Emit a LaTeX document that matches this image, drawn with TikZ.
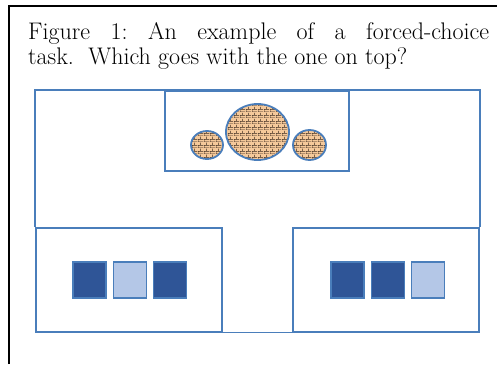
\documentclass[tikz,border=0pt]{standalone}
\usepackage{tikz}
\usetikzlibrary{positioning,calc,patterns.meta}

\definecolor{panelblue}{HTML}{4A7EBB}
\definecolor{darksq}{HTML}{2F5597}
\definecolor{lightsq}{HTML}{B4C7E7}
\definecolor{brickfill}{HTML}{F5C99A}
\definecolor{brickline}{HTML}{3A2A1E}

\pgfdeclarepattern{
  name=smallbricks, type=uncolored,
  bottom left={\pgfpoint{0pt}{0pt}}, top right={\pgfpoint{6pt}{6pt}},
  tile size={\pgfpoint{6pt}{6pt}},
  code={
    \pgfsetlinewidth{0.6pt}
    \pgfpathmoveto{\pgfpoint{0pt}{0pt}}\pgfpathlineto{\pgfpoint{6pt}{0pt}}
    \pgfpathmoveto{\pgfpoint{0pt}{3pt}}\pgfpathlineto{\pgfpoint{6pt}{3pt}}
    \pgfpathmoveto{\pgfpoint{0pt}{0pt}}\pgfpathlineto{\pgfpoint{0pt}{3pt}}
    \pgfpathmoveto{\pgfpoint{3pt}{3pt}}\pgfpathlineto{\pgfpoint{3pt}{6pt}}
    \pgfusepath{stroke}
  }
}

\begin{document}
\begin{tikzpicture}[x=1pt, y=-1pt,
    panel/.style={draw=panelblue, line width=1.6pt, inner sep=0pt, minimum height=104pt, minimum width=186pt},
    tile/.style={draw=panelblue, line width=1.2pt, inner sep=0pt, minimum width=33pt, minimum height=36pt},
    darktile/.style={tile, fill=darksq},
    lighttile/.style={tile, fill=lightsq}]
    \useasboundingbox (0,0) rectangle (497,364);

    % outer frame
    \draw[black, line width=1.8pt] (9,364) -- (9,6) -- (497,6);

    % caption
    \node[anchor=north west, inner sep=0pt, text width=461pt, align=justify,
          font=\fontsize{24}{25}\selectfont\frenchspacing] (caption) at (28,22)
        {Figure 1: An example of a forced-choice\linebreak task.\hspace{0.3em} Which goes with the one on top?};

    % panels
    \node[panel, minimum width=184pt, minimum height=80pt] (target) at (257,131) {};
    \node[panel] (leftchoice) at (129,280) {};
    \node[panel] (rightchoice) at (386,280) {};

    \draw[panelblue, line width=1.6pt] (leftchoice.north west) -- (leftchoice.north west |- target.north)
        -- (rightchoice.north east |- target.north) -- (rightchoice.north east);
    \draw[panelblue, line width=1pt] (leftchoice.south east) -- (rightchoice.south west);

    % brick circles
    \foreach \cx/\cy/\rx/\ry in {207/145/16/14, 257.5/132/31.5/28, 309.5/145/16.5/15} {
        \fill[brickfill] (\cx,\cy) ellipse ({\rx pt} and {\ry pt});
        \fill[pattern=smallbricks, pattern color=brickline] (\cx,\cy) ellipse ({\rx pt} and {\ry pt});
        \draw[panelblue, line width=1.8pt] (\cx,\cy) ellipse ({\rx pt} and {\ry pt});
    }

    % squares
    \node[darktile] (l1) at (89.5,280) {};
    \node[lighttile, right=6pt of l1] (l2) {};
    \node[darktile, right=6pt of l2] (l3) {};

    \node[darktile] (r1) at (347.5,280) {};
    \node[darktile, right=6pt of r1] (r2) {};
    \node[lighttile, right=6pt of r2] (r3) {};
\end{tikzpicture}
\end{document}
